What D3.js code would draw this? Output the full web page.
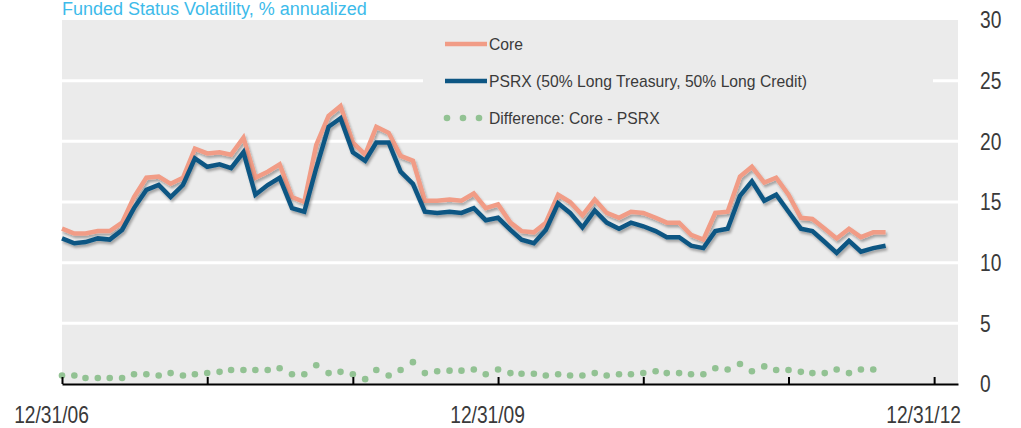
<!DOCTYPE html>
<html>
<head>
<meta charset="utf-8">
<script src="https://cdn.jsdelivr.net/npm/d3@7"></script>
<style>
body { margin: 0; background: #fff; }
.axis-label { font-family: "Liberation Sans", Arial, sans-serif; }
.plain-label { font-family: "Liberation Sans", Arial, sans-serif; }
</style>
</head>
<body>
<svg id="chart" width="1021" height="428"></svg>
<script>
// monthly values, first point 12/31/06
var coreValues = [
    12.8, 12.4, 12.4, 12.6, 12.6, 13.3, 15.4, 17.0, 17.1, 16.5,
    17.0, 19.4, 19.0, 19.1, 18.9, 20.3, 17.0, 17.5, 18.1, 15.4,
    15.0, 19.7, 22.1, 22.9, 19.9, 18.9, 21.2, 20.7, 18.8, 18.4,
    15.1, 15.1, 15.2, 15.1, 15.7, 14.5, 14.8, 13.3, 12.6, 12.5,
    13.3, 15.6, 15.0, 13.9, 15.2, 14.1, 13.7, 14.2, 14.1, 13.7,
    13.3, 13.3, 12.3, 11.9, 14.1, 14.2, 17.1, 17.9, 16.6, 17.0,
    15.6, 13.7, 13.6, 12.8, 12.0, 12.8, 12.1, 12.5, 12.5
];
var psrxValues = [
    12.0, 11.6, 11.7, 12.0, 11.9, 12.7, 14.5, 16.0, 16.4, 15.4,
    16.4, 18.6, 17.9, 18.1, 17.8, 19.1, 15.6, 16.4, 17.0, 14.5,
    14.2, 17.8, 21.2, 21.9, 19.1, 18.4, 19.9, 19.9, 17.5, 16.5,
    14.2, 14.1, 14.2, 14.1, 14.5, 13.5, 13.7, 12.7, 11.9, 11.6,
    12.7, 14.9, 14.1, 12.9, 14.3, 13.3, 12.8, 13.3, 13.0, 12.6,
    12.1, 12.1, 11.4, 11.2, 12.6, 12.8, 15.5, 16.7, 15.1, 15.6,
    14.2, 12.8, 12.6, 11.7, 10.8, 11.8, 10.9, 11.2, 11.4
];
var diffValues = [
    0.7, 0.7, 0.5, 0.5, 0.5, 0.5, 0.8, 0.8, 0.7, 0.9,
    0.7, 0.8, 0.9, 1.0, 1.15, 1.15, 1.15, 1.15, 1.3, 0.8,
    0.8, 1.55, 0.9, 1.0, 0.8, 0.4, 1.15, 0.7, 1.15, 1.8,
    0.9, 1.05, 1.1, 1.1, 1.2, 0.8, 1.2, 0.9, 0.85, 0.85,
    0.7, 0.8, 0.7, 0.7, 0.9, 0.7, 0.8, 0.8, 0.9, 1.05,
    0.9, 0.9, 0.8, 0.8, 1.3, 1.2, 1.65, 1.05, 1.45, 1.15,
    1.15, 1.0, 0.9, 0.9, 1.2, 0.9, 1.2, 1.2
];
var yTicks = [0, 5, 10, 15, 20, 25, 30];
var xTickYears = [2006, 2007, 2008, 2009, 2010, 2011, 2012];
var xLabelYears = [2006, 2009, 2012];
var legendLabels = ["Core", "PSRX (50% Long Treasury, 50% Long Credit)", "Difference: Core - PSRX"];
var chartTitle = "Funded Status Volatility, % annualized";

var colors = { core: "#f19c86", psrx: "#0d5683", diff: "#92c293", bg: "#ebebeb", title: "#3dbbea", text: "#3a3a3a" };

function monthEnd(i) { return new Date(2007, i, 0); }
function yearEnd(yr) { return new Date(yr, 11, 31); }

// the original labels use a narrow face, squeeze the regular one
function narrow(sel) {
    sel.each(function() {
        var w = this.getComputedTextLength();
        d3.select(this)
            .attr("textLength", w * 0.8)
            .attr("lengthAdjust", "spacingAndGlyphs");
    });
}

var svg = d3.select("#chart");

var x = d3.scaleTime()
    .domain([new Date(2006, 11, 31), new Date(2013, 2, 1)])
    .range([62, 958]);
var y = d3.scaleLinear()
    .domain([0, 30])
    .range([384, 20]);

// shadow under the two lines
var defs = svg.append("defs");
defs.append("filter")
    .attr("id", "shadow")
    .attr("x", "-5%").attr("y", "-5%")
    .attr("width", "110%").attr("height", "120%")
    .append("feDropShadow")
    .attr("dx", 1.5).attr("dy", 2.5)
    .attr("stdDeviation", 1.2)
    .attr("flood-color", "#000")
    .attr("flood-opacity", 0.3);

// plot background
svg.append("rect")
    .attr("x", x.range()[0])
    .attr("y", y(30))
    .attr("width", x.range()[1] - x.range()[0])
    .attr("height", y(0) - y(30))
    .attr("fill", colors.bg);

// white gridlines
svg.append("g")
    .selectAll("line")
    .data(yTicks.filter(function(d) { return d > 0 && d < 30; }))
    .join("line")
    .attr("x1", x.range()[0])
    .attr("x2", x.range()[1])
    .attr("y1", function(d) { return y(d); })
    .attr("y2", function(d) { return y(d); })
    .attr("stroke", "#fff")
    .attr("stroke-width", 3);

// legend box hides the gridline behind it
var legend = svg.append("g");
legend.append("rect")
    .attr("x", 423).attr("y", 28)
    .attr("width", 510).attr("height", 104)
    .attr("fill", colors.bg);

// lines
var line = d3.line()
    .x(function(d, i) { return x(monthEnd(i)); })
    .y(function(d) { return y(d); });

svg.append("path")
    .datum(coreValues)
    .attr("d", line)
    .attr("fill", "none")
    .attr("stroke", colors.core)
    .attr("stroke-width", 4.5)
    .attr("filter", "url(#shadow)");

svg.append("path")
    .datum(psrxValues)
    .attr("d", line)
    .attr("fill", "none")
    .attr("stroke", colors.psrx)
    .attr("stroke-width", 4.5)
    .attr("filter", "url(#shadow)");

// difference dots
svg.append("g")
    .selectAll("circle")
    .data(diffValues)
    .join("circle")
    .attr("cx", function(d, i) { return x(monthEnd(i)); })
    .attr("cy", function(d) { return y(d); })
    .attr("r", 3.3)
    .attr("fill", colors.diff);

// x axis, ticks point up
var xAxis = svg.append("g")
    .attr("transform", "translate(0," + y(0) + ")")
    .call(d3.axisBottom(x)
        .tickValues(xTickYears.map(yearEnd))
        .tickSize(-7)
        .tickSizeOuter(0)
        .tickPadding(22)
        .tickFormat(function(d) {
            return xLabelYears.indexOf(d.getFullYear()) >= 0 ? d3.timeFormat("%m/%d/%y")(d) : "";
        }));
xAxis.select(".domain").attr("stroke", "#000").attr("stroke-width", 2);
xAxis.selectAll(".tick line").attr("stroke", "#000").attr("stroke-width", 2);
xAxis.selectAll(".tick text")
    .attr("class", "axis-label")
    .attr("x", -11)
    .attr("font-size", 24)
    .attr("fill", colors.text)
    .call(narrow);

// y axis labels on the right
var yAxis = svg.append("g")
    .attr("transform", "translate(980,0)")
    .call(d3.axisRight(y).tickValues(yTicks).tickSize(0).tickPadding(0));
yAxis.select(".domain").remove();
yAxis.selectAll(".tick text")
    .attr("class", "axis-label")
    .attr("font-size", 24)
    .attr("fill", colors.text)
    .call(narrow);

// title, sits right against the top edge
svg.append("text")
    .attr("class", "plain-label")
    .attr("x", 62)
    .attr("y", 15)
    .attr("font-size", 18)
    .attr("fill", colors.title)
    .text(chartTitle);

// legend entries
var legendY = [44, 81, 118];
legend.append("line")
    .attr("x1", 445).attr("x2", 487)
    .attr("y1", legendY[0]).attr("y2", legendY[0])
    .attr("stroke", colors.core).attr("stroke-width", 4.5);
legend.append("line")
    .attr("x1", 445).attr("x2", 487)
    .attr("y1", legendY[1]).attr("y2", legendY[1])
    .attr("stroke", colors.psrx).attr("stroke-width", 4.5);
legend.selectAll("circle")
    .data([447, 463, 479])
    .join("circle")
    .attr("cx", function(d) { return d; })
    .attr("cy", legendY[2])
    .attr("r", 3.3)
    .attr("fill", colors.diff);
legend.selectAll("text")
    .data(legendLabels)
    .join("text")
    .attr("class", "plain-label")
    .attr("x", 489)
    .attr("y", function(d, i) { return legendY[i]; })
    .attr("dy", "0.36em")
    .attr("font-size", 15.7)
    .attr("fill", colors.text)
    .text(function(d) { return d; });
</script>
</body>
</html>
